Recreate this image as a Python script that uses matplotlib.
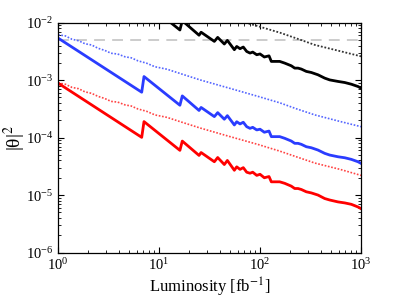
import matplotlib
matplotlib.use("Agg")
import matplotlib.pyplot as plt
import numpy as np

plt.rcParams['font.family'] = ['Liberation Serif', 'DejaVu Serif']
plt.rcParams['mathtext.fontset'] = 'stix'

# luminosity points for the solid (sawtooth) curves, fb^-1
lumi = [1, 6.74, 7.10, 16.1, 17.0, 24.9, 26.1, 35.3, 38.1, 44.3, 47.5, 55.7, 58.8,
        63.4, 68.3, 73.8, 79.6, 84.7, 92.8, 100, 110.3, 122.8, 129.4, 156.7, 175.6,
        204, 220.6, 237.8, 256.4, 287.3, 322, 375, 437, 490, 592, 690, 802, 934, 1000]

black_solid = [1.1e-1, 1.26e-2, 2.36e-2, 7.47e-3, 1.085e-2, 6.06e-3, 6.83e-3, 4.73e-3,
               5.55e-3, 4.26e-3, 4.92e-3, 3.39e-3, 3.86e-3, 3.53e-3, 3.77e-3, 3.16e-3,
               2.96e-3, 3.08e-3, 2.77e-3, 2.86e-3, 2.53e-3, 2.65e-3, 2.12e-3, 2.12e-3,
               1.98e-3, 1.78e-3, 1.62e-3, 1.62e-3, 1.56e-3, 1.42e-3, 1.36e-3, 1.24e-3,
               1.085e-3, 1.01e-3, 9.5e-4, 9.1e-4, 8.5e-4, 7.75e-4, 7.26e-4]

blue_solid = [5.41e-3, 6.17e-4, 1.156e-3, 3.66e-4, 5.32e-4, 2.97e-4, 3.35e-4, 2.32e-4,
              2.72e-4, 2.09e-4, 2.41e-4, 1.66e-4, 1.89e-4, 1.73e-4, 1.85e-4, 1.55e-4,
              1.45e-4, 1.51e-4, 1.36e-4, 1.40e-4, 1.24e-4, 1.30e-4, 1.04e-4, 1.04e-4,
              9.72e-5, 8.72e-5, 7.95e-5, 7.95e-5, 7.64e-5, 6.94e-5, 6.66e-5, 6.07e-5,
              5.32e-5, 4.97e-5, 4.64e-5, 4.46e-5, 4.18e-5, 3.80e-5, 3.56e-5]

red_solid = [8.9e-4, 1.01e-4, 1.9e-4, 6.0e-5, 8.7e-5, 4.9e-5, 5.5e-5, 3.8e-5,
             4.5e-5, 3.4e-5, 4.0e-5, 2.7e-5, 3.1e-5, 2.8e-5, 3.0e-5, 2.5e-5,
             2.4e-5, 2.5e-5, 2.2e-5, 2.3e-5, 2.0e-5, 2.1e-5, 1.7e-5, 1.7e-5,
             1.6e-5, 1.43e-5, 1.30e-5, 1.30e-5, 1.25e-5, 1.14e-5, 1.09e-5, 1.0e-5,
             8.7e-6, 8.2e-6, 7.6e-6, 7.3e-6, 6.9e-6, 6.2e-6, 5.8e-6]

# dotted curves (slightly noisy at low luminosity)
lumi_dot = [1, 1.18, 1.376, 1.6, 1.851, 2.15, 2.49, 2.9, 3.35, 3.9, 4.61, 5.3, 6.19,
            7.5, 9.13, 12, 16.1, 25.5, 50.5, 95.5, 157.8, 232, 350, 620, 1000]
blue_dot = [6.17e-3, 5.9e-3, 5.15e-3, 4.85e-3, 4.30e-3, 4.1e-3, 3.59e-3, 3.3e-3,
            2.94e-3, 2.85e-3, 2.55e-3, 2.45e-3, 2.17e-3, 1.98e-3, 1.71e-3, 1.55e-3,
            1.31e-3, 1.01e-3, 7.19e-4, 5.22e-4, 4.02e-4, 3.15e-4, 2.48e-4, 1.91e-4, 1.55e-4]
red_dot = [8.96e-4, 8.5e-4, 7.48e-4, 7.1e-4, 6.25e-4, 5.9e-4, 5.22e-4, 4.8e-4,
           4.27e-4, 4.15e-4, 3.71e-4, 3.55e-4, 3.15e-4, 2.88e-4, 2.48e-4, 2.25e-4,
           1.90e-4, 1.47e-4, 1.04e-4, 7.6e-5, 5.8e-5, 4.6e-5, 3.6e-5, 2.8e-5, 2.2e-5]
lumi_black_dot = [25.5, 50.5, 95.5, 157.8, 232, 350, 620, 1000]
black_dot = [1.7e-2, 1.2e-2, 8.7e-3, 6.7e-3, 5.3e-3, 4.1e-3, 3.2e-3, 2.6e-3]

bound = 5e-3

fig = plt.figure(figsize=(3.99, 3.0), dpi=100)
ax = fig.add_axes([0.1454, 0.1583, 0.7594, 0.766])

ax.axhline(bound, color='#c8c8c8', lw=1.3, ls=(0, (6, 4)))

ax.plot(lumi_black_dot, black_dot, color='#333333', lw=1.3, ls=(0, (1, 1)))
ax.plot(lumi_dot, blue_dot, color='#5566ff', lw=1.2, ls=(0, (1, 1)))
ax.plot(lumi_dot, red_dot, color='#ff4444', lw=1.2, ls=(0, (1, 1)))

ax.plot(lumi, black_solid, color='black', lw=2.0)
ax.plot(lumi, blue_solid, color='#2a3cff', lw=2.0)
ax.plot(lumi, red_solid, color='#ff0000', lw=2.0)

ax.set_xscale('log')
ax.set_yscale('log')
ax.set_xlim(1, 1000)
ax.set_ylim(1e-6, 1e-2)

ax.tick_params(which='both', direction='in', top=True, right=True, labelsize=10.5)
ax.tick_params(which='major', length=4, width=0.8)
ax.tick_params(which='minor', length=2, width=0.6)
for s in ax.spines.values():
    s.set_linewidth(0.9)

ax.set_xlabel('Luminosity [fb$^{-1}$]', fontsize=12, labelpad=2)
ax.set_ylabel('|θ|$^2$', fontsize=14)
ax.yaxis.set_label_coords(-0.1, 0.5)

fig.savefig('out.png', dpi=100)
